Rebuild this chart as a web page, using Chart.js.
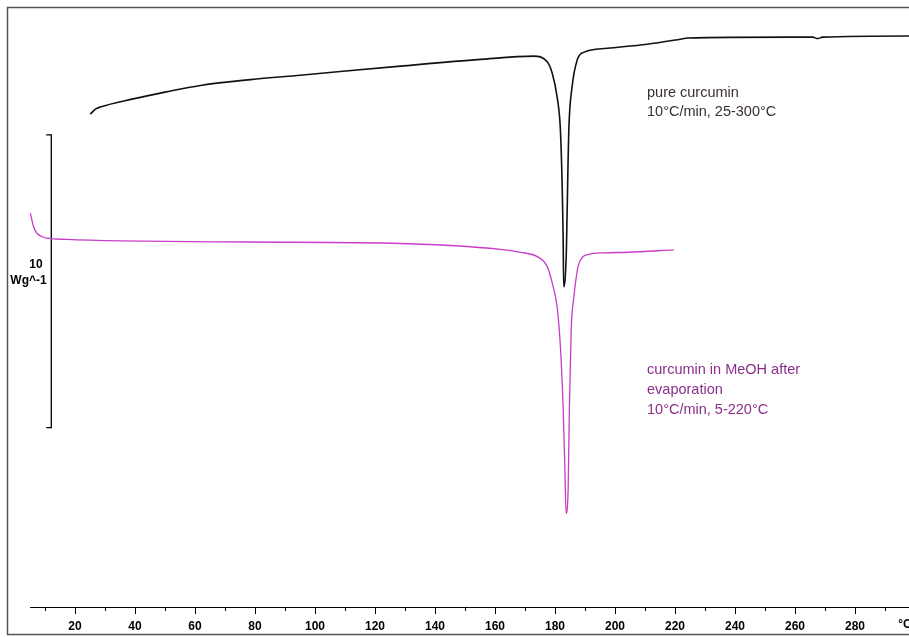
<!DOCTYPE html>
<html>
<head>
<meta charset="utf-8">
<script src="https://cdn.jsdelivr.net/npm/chart.js@4"></script>
<style>
  html, body { margin: 0; padding: 0; background: #fff; }
  #wrap { position: relative; width: 909px; height: 637px; }
</style>
</head>
<body>
<div id="wrap"><canvas id="dsc"></canvas></div>
<script>
// temperature (°C) / heat flow (W/g, arbitrary offset)
const pureT = [25.1, 26.8, 28.4, 39.4, 50.4, 61.8, 78.5, 95.1, 128.5, 155.1, 172.9, 177.4, 179.1, 180.7, 181.8, 182.4, 182.7, 182.9,
  183.8, 184.3, 184.6, 185.7, 187.4, 189.6, 197.4, 210.7, 221.8, 224.2, 258.5, 265.9, 267.5, 269.2, 298.2, 300];
const pureY = [16.84, 17.01, 17.08, 17.36, 17.60, 17.82, 18.02, 18.17, 18.48, 18.71, 18.82, 18.63, 18.23, 17.43, 16.30, 14.36, 12.78, 10.94,
  12.20, 14.93, 16.30, 17.78, 18.69, 18.95, 19.09, 19.23, 19.40, 19.44, 19.47, 19.47, 19.42, 19.47, 19.51, 19.51];

const meohT = [5.1, 6.2, 7.3, 9.0, 10.7, 17.3, 35.1, 78.5, 128.5, 161.8, 168.5, 174.1, 177.4, 179.1, 180.7, 181.8, 182.7, 183.3,
  183.7, 184.4, 184.8, 185.4, 186.3, 188.0, 191.3, 196.3, 204.1, 219.6];
const meohY = [13.46, 12.99, 12.77, 12.65, 12.60, 12.56, 12.51, 12.47, 12.42, 12.22, 12.12, 11.97, 11.63, 11.06, 10.26, 8.90, 6.85, 4.68,
  3.20, 4.11, 6.84, 9.46, 10.60, 11.74, 12.05, 12.10, 12.12, 12.20];

// 10 W/g scale bar
const barT = [10.4, 12.1, 12.1, 10.4];
const barY = [16.13, 16.13, 6.13, 6.13];

const tickValues = [10, 20, 30, 40, 50, 60, 70, 80, 90, 100, 110, 120, 130, 140, 150, 160, 170, 180, 190, 200, 210, 220, 230, 240, 250, 260, 270, 280, 290];
const tickLabels = ['20', '40', '60', '80', '100', '120', '140', '160', '180', '200', '220', '240', '260', '280'];

const pureLabel = ['pure curcumin', '10°C/min, 25-300°C'];
const meohLabel = ['curcumin in MeOH after', 'evaporation', '10°C/min, 5-220°C'];

const toXY = (xs, ys) => xs.map((x, i) => ({ x: x, y: ys[i] }));

// frame, tick marks and the written notes
const decor = {
  id: 'decor',
  beforeDraw(chart) {
    const ctx = chart.ctx;
    ctx.save();
    ctx.strokeStyle = '#555';
    ctx.lineWidth = 1.5;
    ctx.strokeRect(7.5, 7.5, 1000, 627);
    ctx.restore();
  },
  afterDraw(chart) {
    const ctx = chart.ctx;
    const xs = chart.scales.x;
    const ys = chart.scales.y;
    const base = chart.chartArea.bottom;
    ctx.save();
    ctx.strokeStyle = '#000';
    ctx.lineWidth = 1;
    ctx.beginPath();
    ctx.moveTo(chart.chartArea.left, base + 0.5);
    ctx.lineTo(chart.chartArea.right, base + 0.5);
    tickValues.forEach(v => {
      const px = Math.round(xs.getPixelForValue(v)) + 0.5;
      const len = tickLabels.includes(String(v)) ? 7 : 4;
      ctx.moveTo(px, base);
      ctx.lineTo(px, base + len);
    });
    ctx.stroke();

    ctx.fillStyle = '#000';
    ctx.font = 'bold 12px "Liberation Sans Narrow", "Liberation Sans", sans-serif';
    ctx.textAlign = 'center';
    ctx.textBaseline = 'middle';
    ctx.fillText('°C', 905, 625);
    ctx.fillText('10', xs.getPixelForValue(7), ys.getPixelForValue(11.7));
    ctx.fillText('Wg^-1', xs.getPixelForValue(4.5), ys.getPixelForValue(11.15));

    ctx.textAlign = 'left';
    ctx.textBaseline = 'alphabetic';
    ctx.font = '14.5px "Liberation Sans", Arial, sans-serif';
    ctx.fillStyle = '#3a3030';
    pureLabel.forEach((t, i) => ctx.fillText(t, 647, 97 + i * 19));
    ctx.fillStyle = '#8b2f8b';
    meohLabel.forEach((t, i) => ctx.fillText(t, 647, 374 + i * 20));
    ctx.restore();
  }
};

new Chart(document.getElementById('dsc'), {
  type: 'line',
  data: {
    datasets: [
      {
        label: 'pure curcumin',
        data: toXY(pureT, pureY),
        borderColor: '#111',
        borderWidth: 1.6,
        pointRadius: 0,
        cubicInterpolationMode: 'monotone'
      },
      {
        label: 'curcumin in MeOH after evaporation',
        data: toXY(meohT, meohY),
        borderColor: '#c83cc8',
        borderWidth: 1.3,
        pointRadius: 0,
        cubicInterpolationMode: 'monotone'
      },
      {
        label: 'scale',
        data: toXY(barT, barY),
        borderColor: '#000',
        borderWidth: 1.3,
        pointRadius: 0,
        tension: 0
      }
    ]
  },
  options: {
    responsive: true,
    maintainAspectRatio: false,
    animation: false,
    layout: { padding: { left: 30, right: 0, top: 7, bottom: 0 } },
    plugins: { legend: { display: false }, tooltip: { enabled: false } },
    scales: {
      x: {
        type: 'linear',
        min: 5,
        max: 298,
        afterBuildTicks: s => { s.ticks = tickValues.map(v => ({ value: v })); },
        afterFit: s => { s.height = 30; },
        border: { display: false },
        grid: { display: false, drawTicks: false },
        ticks: {
          autoSkip: false,
          maxRotation: 0,
          padding: 12,
          color: '#000',
          font: { family: '"Liberation Sans Narrow", "Liberation Sans", sans-serif', size: 12, weight: 'bold' },
          callback: v => tickLabels.includes(String(v)) ? String(v) : ''
        }
      },
      y: { display: false, min: 0, max: 20.5 }
    }
  },
  plugins: [decor]
});
</script>
</body>
</html>
